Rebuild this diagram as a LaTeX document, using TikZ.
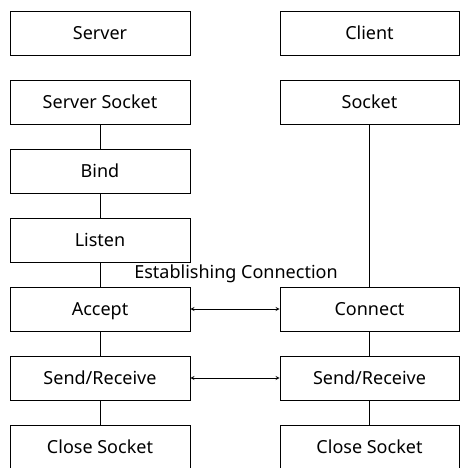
\documentclass[tikz,border=0pt]{standalone}
\usepackage{fontspec}
\setmainfont{Noto Sans}
\usetikzlibrary{positioning, arrows}
\newcommand{\boxfont}{\fontsize{18}{21}\selectfont}

\begin{document}
\begin{tikzpicture}[x=1pt, y=-1pt, line width=0.8pt,
  box/.style={draw, minimum width=180pt, minimum height=44pt, inner sep=0pt,
    text height=13pt, text depth=0pt, font=\boxfont}]
  \useasboundingbox (0,0) rectangle (460,468);

  % Lado do servidor
  \foreach \name/\txt [count=\i] in {srv/Server, ssock/Server Socket, bind/Bind, listen/Listen, accept/Accept, ssr/{Send/Receive}, sclose/Close Socket} {
    \node[box] (\name) at (100, 33+69*\i-69) {\txt};
  }

  % Lado do cliente
  \node[box, minimum width=179pt] (cli) at (369.5, 33) {Client};
  \node[box, minimum width=179pt] (csock) at (369.5, 102) {Socket};
  \node[box, minimum width=179pt] (connect) at (369.5, 309) {Connect};
  \node[box, minimum width=179pt] (csr) at (369.5, 378) {Send/Receive};
  \node[box, minimum width=179pt] (cclose) at (369.5, 447) {Close Socket};

  % Ligando os passos
  \draw (ssock) -- (bind) -- (listen) -- (accept) -- (ssr) -- (sclose);
  \draw (csock) -- (connect) -- (csr) -- (cclose);

  % Troca entre os dois lados
  \draw[<->, >=stealth] (accept) -- (connect);
  \draw[<->, >=stealth] (ssr) -- (csr);
  \node[font=\boxfont] (estab) at (236, 274) {Establishing Connection};
\end{tikzpicture}
\end{document}
